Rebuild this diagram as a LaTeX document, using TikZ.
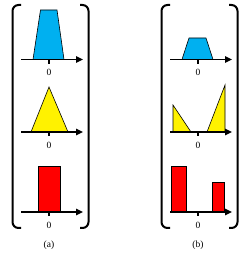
\documentclass[tikz,border=0pt]{standalone}
\usepackage{fontspec}
\setmainfont{Liberation Serif}
\usetikzlibrary{arrows.meta}
\definecolor{skyblue}{RGB}{0,176,240}

\begin{document}
\begin{tikzpicture}[x=1pt,y=1pt,
        axis/.style={line width=1.3pt,-{Triangle[length=7pt,width=6.5pt]}},
        brack/.style={line width=2pt,rounded corners=6pt},
        shp/.style={draw=black,line width=0.6pt},
        lbl/.style={font=\fontsize{9.5}{11}\selectfont,inner sep=0pt}]
        \useasboundingbox (0,0) rectangle (250,255);
        % shapes, panel (a)
        \filldraw[shp,fill=skyblue] (33,195.5) -- (40.5,245) -- (57,245) -- (64,195.5) -- cycle;
        \filldraw[shp,fill=yellow] (31,123) -- (49,168) -- (68,123) -- cycle;
        \filldraw[shp,fill=red] (38,43) rectangle (60,89);
        % shapes, panel (b)
        \filldraw[shp,fill=skyblue] (182,195.5) -- (189,217) -- (206,217) -- (213,195.5) -- cycle;
        \filldraw[shp,fill=yellow] (173,123) -- (173,150) -- (191,123) -- cycle;
        \filldraw[shp,fill=yellow] (207,123) -- (225,170) -- (225,123) -- cycle;
        \filldraw[shp,fill=red] (171,43) rectangle (186,89);
        \filldraw[shp,fill=red] (212,43) rectangle (224,73);
        % axes and brackets
        \foreach \cx/\p in {49/a,198/b} {
            \draw[brack] (\cx-28,250) -- (\cx-36.5,250) -- (\cx-36.5,27) -- (\cx-28,27);
            \draw[brack] (\cx+31,250) -- (\cx+39.5,250) -- (\cx+39.5,27) -- (\cx+31,27);
            \foreach \ay/\r in {195.5/1,123/2,43/3} {
                \draw[axis] (\cx-28,\ay) -- (\cx+34,\ay);
                \draw[line width=1.3pt] (\cx,\ay) -- (\cx,\ay-4.5);
                \node[lbl] (zero\p\r) at (\cx,\ay-13) {0};
            }
            \node[lbl] (cap\p) at (\cx,10) {(\p)};
        }
    \end{tikzpicture}
\end{document}
